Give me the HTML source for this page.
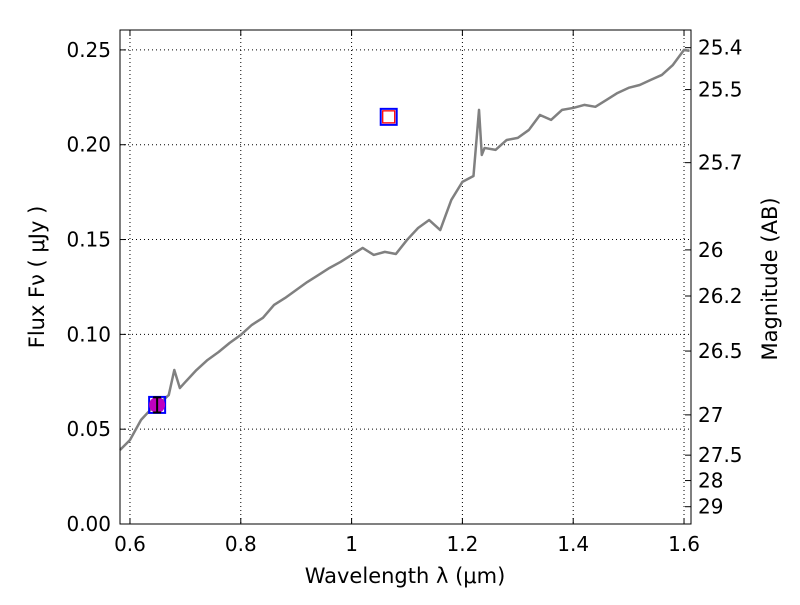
<!DOCTYPE html>
<html><head><meta charset="utf-8"><style>
body{margin:0;background:#fff}
svg text{font-family:"DejaVu Sans","Liberation Sans",sans-serif;fill:#000}
</style></head><body>
<svg id="c" width="800" height="600" xmlns="http://www.w3.org/2000/svg"></svg>
<script>
const wavelengths=[0.582,0.60,0.62,0.64,0.66,0.67,0.68,0.69,0.70,0.72,0.74,0.76,0.78,0.80,0.82,0.84,0.86,0.88,0.90,0.92,0.94,0.96,0.98,1.00,1.02,1.04,1.06,1.08,1.10,1.12,1.14,1.16,1.17,1.18,1.20,1.22,1.23,1.235,1.24,1.26,1.28,1.30,1.32,1.34,1.36,1.38,1.40,1.42,1.44,1.46,1.48,1.50,1.52,1.54,1.56,1.58,1.60,1.61];
const fluxes=[0.039,0.0443,0.0549,0.0612,0.0654,0.068,0.0812,0.0717,0.0749,0.0812,0.0865,0.0907,0.0955,0.0997,0.105,0.1087,0.1155,0.1192,0.1234,0.1276,0.1313,0.135,0.1382,0.1419,0.1456,0.1419,0.1435,0.1424,0.1498,0.1561,0.1603,0.155,0.163,0.1709,0.1804,0.1835,0.2184,0.1946,0.1983,0.1973,0.2025,0.2036,0.2078,0.2157,0.2131,0.2184,0.2194,0.221,0.22,0.2236,0.2273,0.23,0.2315,0.2342,0.2368,0.2421,0.25,0.2495];
const photX=[0.649,1.067];
const photY=[0.0628,0.2147];
const photErr=[0.004,0];
const xTicks=[0.6,0.8,1.0,1.2,1.4,1.6];
const xTickLabels=["0.6","0.8","1","1.2","1.4","1.6"];
const yTicks=[0,0.05,0.10,0.15,0.20,0.25];
const yTickLabels=["0.00","0.05","0.10","0.15","0.20","0.25"];
const magTicks=[25.4,25.5,25.7,26,26.2,26.5,27,27.5,28,29];

const L=120,R=691,T=30,B=524,x0=0.582,x1=1.6126,y0=0,y1=0.2605;
const X=v=>L+(v-x0)/(x1-x0)*(R-L);
const Y=v=>B-(v-y0)/(y1-y0)*(B-T);
const svg=document.getElementById('c');const NS="http://www.w3.org/2000/svg";
function mk(t,a,p){const e=document.createElementNS(NS,t);for(const k in a)e.setAttribute(k,a[k]);(p||svg).appendChild(e);return e;}
function txt(s,a){const e=mk('text',a);e.textContent=s;return e;}

const grid=mk('g',{});
xTicks.forEach(v=>mk('line',{x1:X(v),x2:X(v),y1:T,y2:B,stroke:'#000','stroke-dasharray':'1,3','stroke-width':1},grid));
yTicks.forEach(v=>mk('line',{x1:L,x2:R,y1:Y(v),y2:Y(v),stroke:'#000','stroke-dasharray':'1,3','stroke-width':1},grid));

const line=mk('polyline',{points:wavelengths.map((w,i)=>X(w)+','+Y(fluxes[i])).join(' '),fill:'none',stroke:'#808080','stroke-width':2.5,'stroke-linejoin':'round'});


let p=photX[0],q=photY[0];
const b1=mk('rect',{x:X(p)-8,y:Y(q)-8,width:16,height:16,fill:'none',stroke:'#00f','stroke-width':2});

const c1=mk('circle',{cx:X(p),cy:Y(q),r:8,fill:'#bf00bf'});

mk('line',{x1:X(p),x2:X(p),y1:Y(q+photErr[0]),y2:Y(q-photErr[0]),stroke:'#000','stroke-width':2});
mk('line',{x1:X(p)-4,x2:X(p)+4,y1:Y(q+photErr[0]),y2:Y(q+photErr[0]),stroke:'#000','stroke-width':2});
mk('line',{x1:X(p)-4,x2:X(p)+4,y1:Y(q-photErr[0]),y2:Y(q-photErr[0]),stroke:'#000','stroke-width':2});
p=photX[1];q=photY[1];
const b2=mk('rect',{x:X(p)-8,y:Y(q)-8,width:16,height:16,fill:'#fff',stroke:'#00f','stroke-width':2});

const r2=mk('rect',{x:X(p)-6,y:Y(q)-6,width:12,height:12,fill:'#fff',stroke:'#f00','stroke-width':1.3});


mk('rect',{x:L,y:T,width:R-L,height:B-T,fill:'none',stroke:'#000','stroke-width':1});

xTicks.forEach((v,i)=>{mk('line',{x1:X(v),x2:X(v),y1:B,y2:B-6,stroke:'#000'});mk('line',{x1:X(v),x2:X(v),y1:T,y2:T+6,stroke:'#000'});
 const t=txt(xTickLabels[i],{x:X(v),y:B+27,'font-size':20,'text-anchor':'middle'});});
yTicks.forEach((v,i)=>{mk('line',{x1:L,x2:L+6,y1:Y(v),y2:Y(v),stroke:'#000'});
 const t=txt(yTickLabels[i],{x:L-9,y:Y(v)+7,'font-size':20,'text-anchor':'end'});});
magTicks.forEach(m=>{const f=Math.pow(10,(23.9-m)/2.5);const y=Y(f);mk('line',{x1:R,x2:R-6,y1:y,y2:y,stroke:'#000'});
 const t=txt(String(m),{x:R+7,y:y+7,'font-size':20});});

let t=txt('Wavelength  λ (μm)',{x:405,y:583,'font-size':21,'text-anchor':'middle'});
t=txt('Flux  Fν  ( μJy )',{x:0,y:0,'font-size':21,'text-anchor':'middle',transform:'translate(44,277) rotate(-90)'});
t=txt('Magnitude (AB)',{x:0,y:0,'font-size':21,'text-anchor':'middle',transform:'translate(777,279) rotate(-90)'});
</script>
</body></html>
